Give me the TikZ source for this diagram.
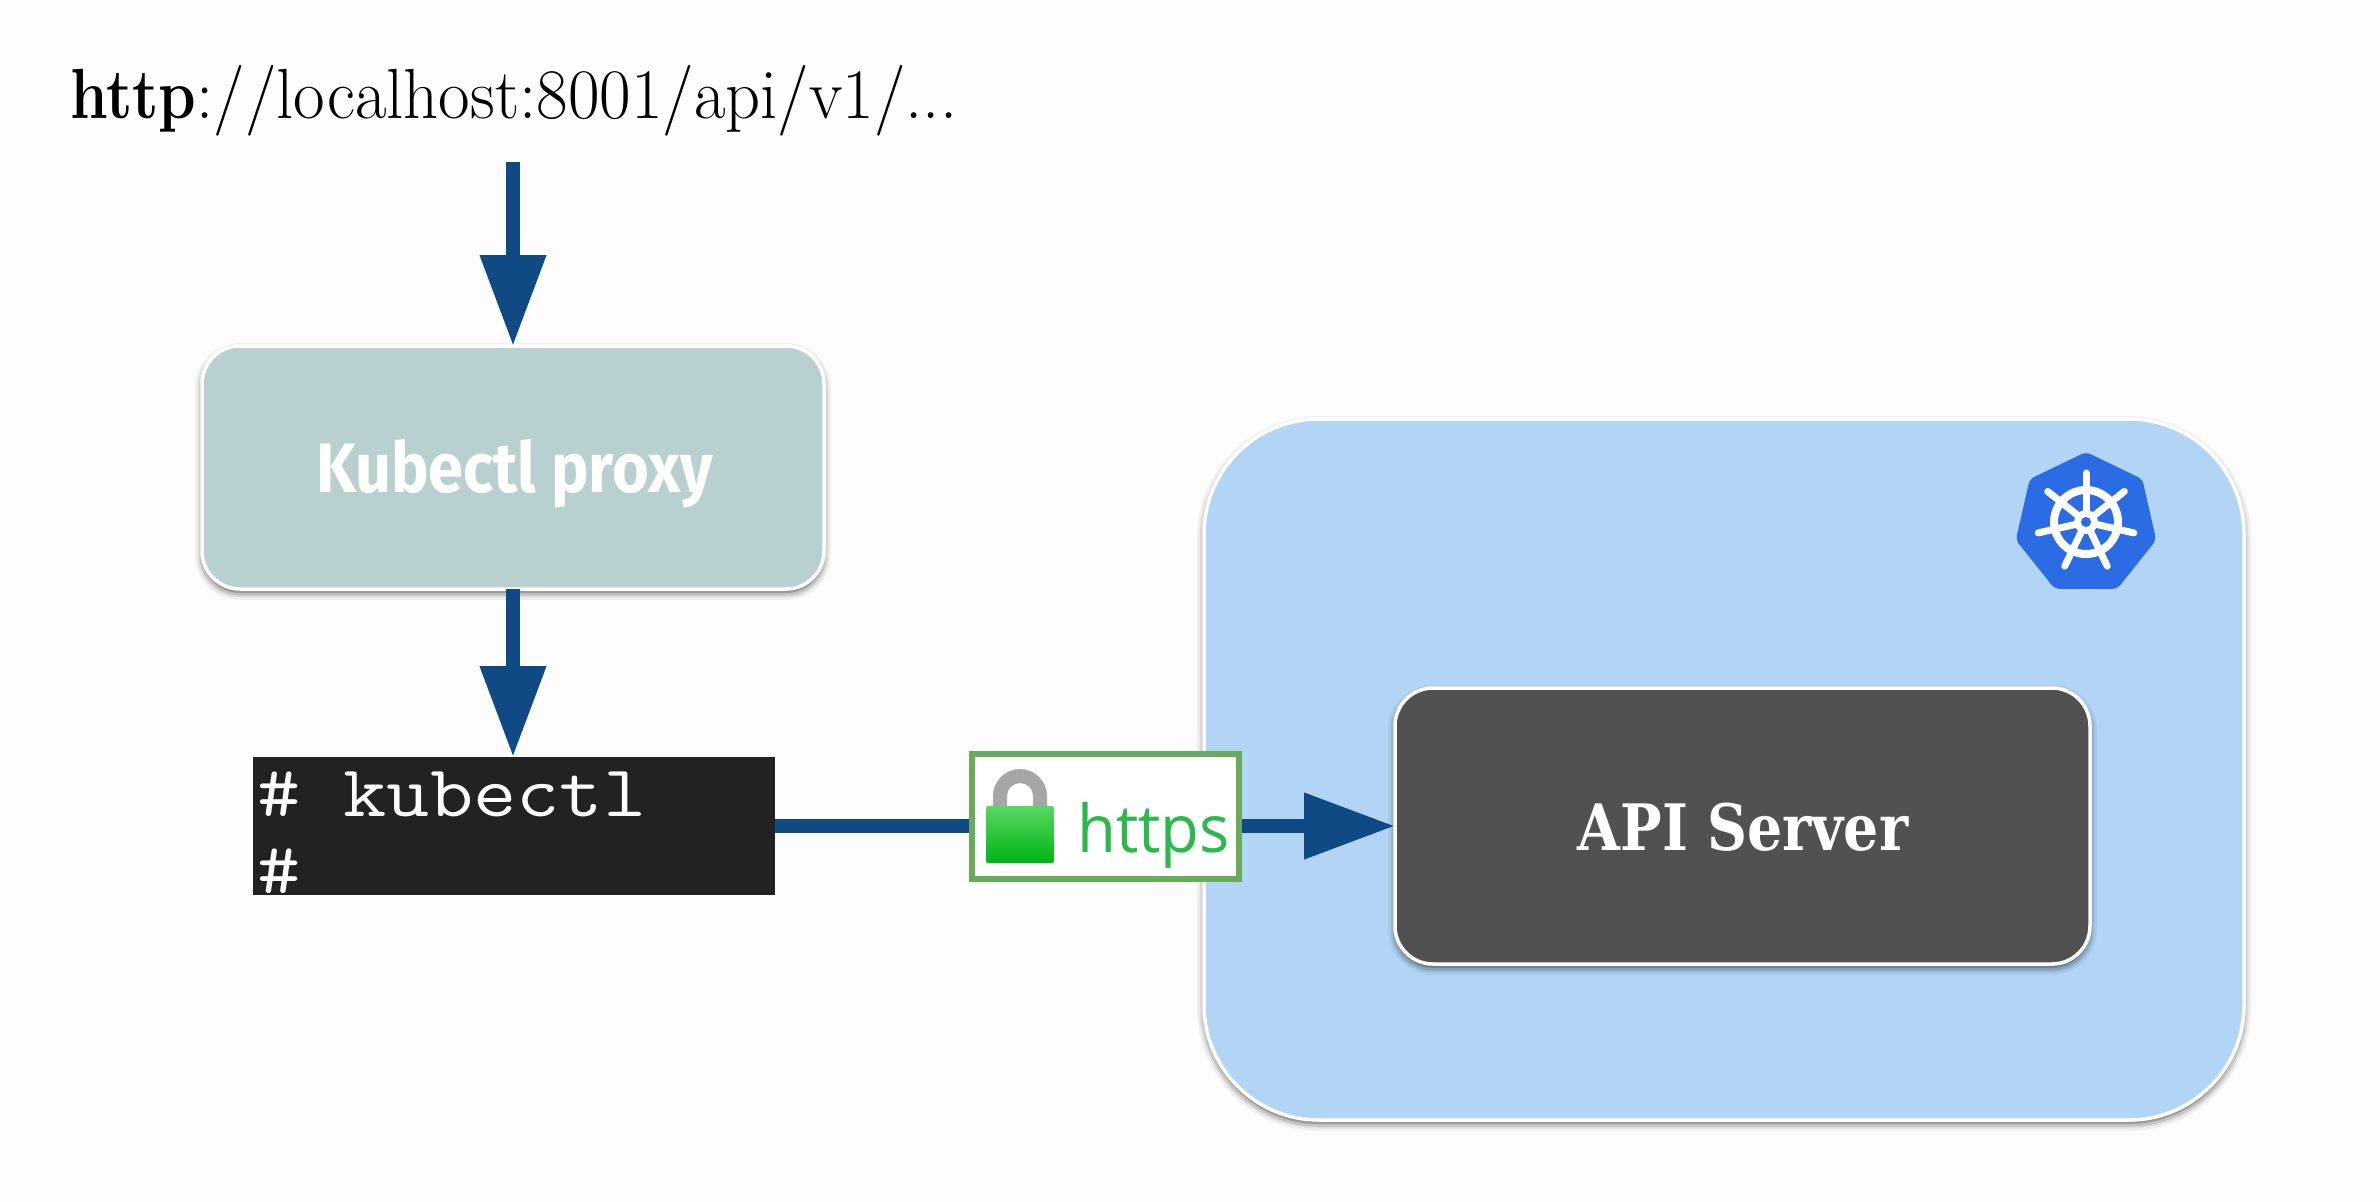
\documentclass[tikz,border=0pt]{standalone}
\usepackage{fontspec}
\setmainfont{Liberation Sans}
\newfontfamily\urlfont{Latin Modern Roman}
\newfontfamily\boldslab{DejaVu Serif}
\newfontfamily\labelfont{Fira Sans}
\newfontfamily\monofont[FakeStretch=1.15]{Latin Modern Mono}
\newfontfamily\httpsfont{Open Sans}
\usetikzlibrary{arrows.meta,shapes.geometric}
\definecolor{pagebg}{HTML}{FDFDFD}
\definecolor{arrowblue}{HTML}{0F4A85}
\definecolor{clusterblue}{HTML}{B2D4F5}
\definecolor{proxyteal}{HTML}{B8D0D0}
\definecolor{apigrey}{HTML}{515151}
\definecolor{termblack}{HTML}{222222}
\definecolor{tlsgreen}{HTML}{68AB5C}
\definecolor{tlstext}{HTML}{2DB84D}
\definecolor{k8sblue}{HTML}{2B6BE4}
\definecolor{lockgrey}{HTML}{A6A6A6}
\definecolor{locktop}{HTML}{58D862}
\definecolor{lockbot}{HTML}{00B414}
\tikzset{
  softshadow/.style={
    preaction={draw=black,draw opacity=.05,line width=14pt,transform canvas={yshift=-4pt}},
    preaction={draw=black,draw opacity=.08,line width=9pt,transform canvas={yshift=-4pt}},
    preaction={draw=black,draw opacity=.12,line width=5pt,fill=black,fill opacity=.2,transform canvas={yshift=-4pt}}},
  panel/.style={draw=white,line width=3.5pt,inner sep=0pt,outer sep=0pt,softshadow},
  flow/.style={draw=arrowblue,line width=14pt,-{Triangle[length=91pt,width=63pt]}},
  flowplain/.style={draw=arrowblue,line width=14pt},
}
\begin{document}
\begin{tikzpicture}[x=1pt,y=-1pt]
\useasboundingbox (0,0) rectangle (2380,1202);
\fill[pagebg] (0,0) rectangle (2380,1202);

% cluster
\node[panel,fill=clusterblue,rounded corners=115pt,minimum width=1040pt,minimum height=701pt] (cluster) at (1724,769.5) {};

% URL
\node[anchor=base west,inner sep=0pt,font=\fontsize{71}{71}\selectfont\urlfont] (url) at (70,118) {\scalebox{.85}[1]{\textbf{http}}\scalebox{.967}[1]{://localhost:8001/api/v1/...}};
\coordinate (urlout) at (513,162);

% proxy
\node[panel,fill=proxyteal,rounded corners=38pt,minimum width=622pt,minimum height=243pt] (proxy) at (513,467.5) {};
\node[anchor=base,text=white,font=\fontsize{70}{70}\selectfont\labelfont\bfseries] (proxylabel) at (514.5,492) {\scalebox{.9}[1]{Kubectl proxy}};

% terminal
\node[fill=termblack,inner sep=0pt,outer sep=0pt,minimum width=522pt,minimum height=138pt] (term) at (514,826) {};
\begin{scope}
\clip (term.south west) rectangle (term.north east);
\node[anchor=base west,inner sep=0pt,text=white,font=\fontsize{73}{73}\selectfont\monofont] (termline) at (257,816) {\#\ kubectl};
\node[anchor=base west,inner sep=0pt,text=white,font=\fontsize{73}{73}\selectfont\monofont] (termprompt) at (257,893) {\#};
\end{scope}

% API server
\node[panel,fill=apigrey,rounded corners=38pt,minimum width=695pt,minimum height=276pt] (api) at (1742.5,826) {};
\node[anchor=base,text=white,font=\fontsize{64}{64}\selectfont\boldslab\bfseries] (apilabel) at (1743,850) {\scalebox{.865}[1]{API Server}};

% https badge
\node[draw=tlsgreen,fill=white,line width=6pt,inner sep=0pt,outer sep=3pt,minimum width=267pt,minimum height=125pt] (https) at (1105.5,816.5) {};
\fill[lockgrey,even odd rule] (993,806) -- (993,796) arc[start angle=180,end angle=0,radius=27pt] -- (1047,806) -- (1033,806) -- (1033,796) arc[start angle=0,end angle=180,radius=13pt] -- (1007,806) -- cycle;
\shade[top color=locktop,bottom color=lockbot,rounded corners=2pt] (986,806) rectangle (1054,863);
\node[anchor=base west,inner sep=0pt,text=tlstext,font=\fontsize{66}{66}\selectfont\httpsfont] (httpslabel) at (1077,852) {\scalebox{.96}[1]{https}};

% connectors
\draw[flow] (urlout) -- (urlout |- proxy.north);
\draw[flow] (urlout |- proxy.south) -- (urlout |- term.north);
\draw[flowplain] (term.east) -- (term.east -| https.west);
\draw[flow] (term.east -| https.east) -- (api.west);

% kubernetes logo
\node[regular polygon,regular polygon sides=7,fill=k8sblue,rounded corners=5pt,inner sep=0pt,minimum size=144pt] (k8s) at (2086,524) {};
\begin{scope}[shift={(2086,522)}]
\draw[white,line width=8pt] (0,0) circle[radius=32pt];
\foreach \a in {90,141.43,192.86,244.29,295.71,347.14,38.57}
  \draw[white,line width=7pt,line cap=round] (0,0) -- (\a:49pt);
\fill[white] (0,0) circle[radius=12pt];
\fill[k8sblue] (0,0) circle[radius=5pt];
\end{scope}
\end{tikzpicture}
\end{document}
